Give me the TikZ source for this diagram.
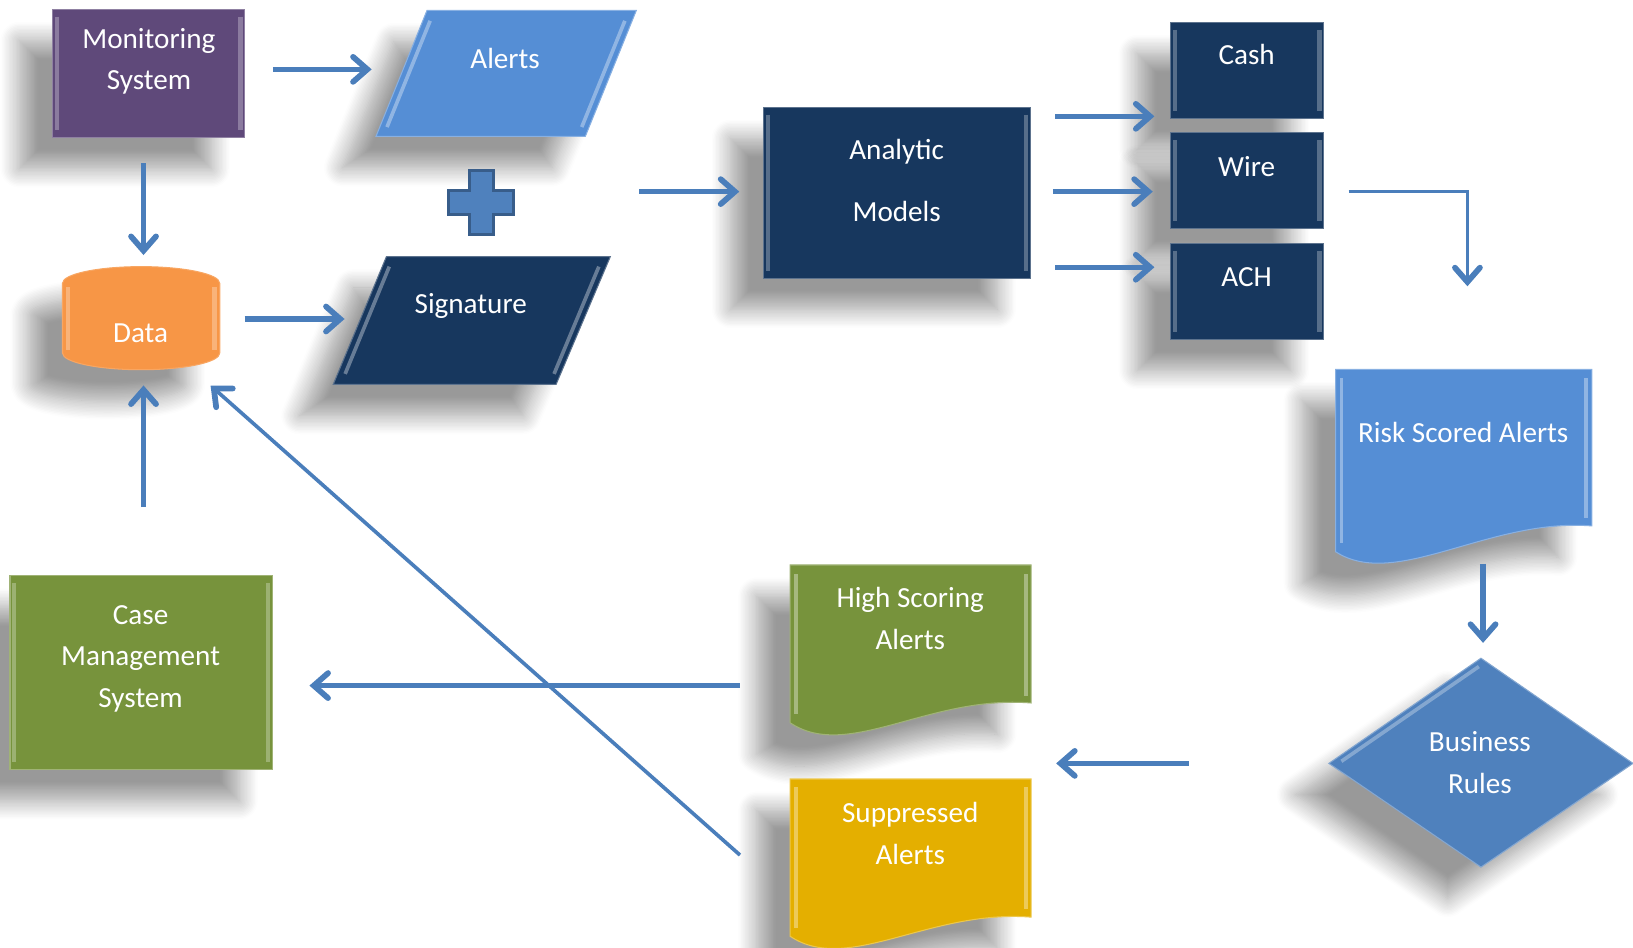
\documentclass[tikz,border=0pt]{standalone}
\usepackage{fontspec}
\setmainfont{Carlito}
\usetikzlibrary{shadows.blur,decorations.markings}

\definecolor{mspurple}{HTML}{5F497A}
\definecolor{alertblue}{HTML}{558ED5}
\definecolor{navy}{HTML}{17375E}
\definecolor{dataorange}{HTML}{F79646}
\definecolor{plusblue}{HTML}{4F81BD}
\definecolor{plusedge}{HTML}{385D8A}
\definecolor{olive}{HTML}{77933C}
\definecolor{gold}{HTML}{E4AF00}
\definecolor{rulesblue}{HTML}{4F81BD}
\definecolor{arrowblue}{HTML}{4A7EBB}

\begin{document}
\begin{tikzpicture}[x=1pt,y=-1pt,
  softshadow/.style={blur shadow={shadow xshift=-32pt, shadow yshift=-30pt,
      shadow blur radius=18pt, shadow blur steps=14, shadow opacity=40}},
  bevel/.style={path picture={
      \draw[white, opacity=.28, line width=4pt]
        ([xshift=4pt,yshift=-7pt]path picture bounding box.north west) --
        ([xshift=4pt,yshift=7pt]path picture bounding box.south west);
      \draw[white, opacity=.28, line width=4pt]
        ([xshift=-4pt,yshift=-7pt]path picture bounding box.north east) --
        ([xshift=-4pt,yshift=7pt]path picture bounding box.south east);}},
  box/.style={rectangle, inner sep=0pt, fill=#1, draw=#1!70!white,
      line width=1pt, softshadow, bevel},
  hilite/.style={white, opacity=.35, line width=3.5pt},
  lbl/.style={text=white, font=\fontsize{28}{40}\selectfont, align=center, inner sep=0pt},
  chevron/.style={postaction={decorate, decoration={markings,
      mark=at position 1 with {\draw[arrowblue, line width=5.5pt, shorten >=0pt,
          line join=miter, miter limit=5, line cap=round]
          (-18pt,12pt) -- (-4.3pt,0pt) -- (-18pt,-12pt);}}}},
  arr/.style={draw=arrowblue, line width=5pt, shorten >=5pt, chevron},
  thinarr/.style={draw=arrowblue, line width=3.5pt, shorten >=5pt, chevron}]

\useasboundingbox (0,0) rectangle (1568,910);

% ---------- Monitoring System ----------
\node[box=mspurple, minimum width=184.5pt, minimum height=123pt] (monbox) at (142.75,70.5) {};
\node[lbl] (mon) at (143,59) {Monitoring\\System};

% ---------- Alerts (parallelogram) ----------
\path[softshadow, fill=alertblue, draw=alertblue!70!white, line width=1pt]
  (410,10) -- (611,10) -- (562,131) -- (361,131) -- cycle;
\draw[hilite] (413,20) -- (371.6,122);
\draw[hilite] (600,20) -- (558.6,122);
\node[lbl] (alerts) at (485,56) {Alerts};

% ---------- plus sign ----------
\path[fill=plusblue, draw=plusedge, line width=3pt]
  (450.5,163.5) -- (473.5,163.5) -- (473.5,183) -- (493,183) -- (493,206)
  -- (473.5,206) -- (473.5,225.5) -- (450.5,225.5) -- (450.5,206) -- (431,206)
  -- (431,183) -- (450.5,183) -- cycle;
\coordinate (plus) at (462,194.5);

% ---------- Signature (parallelogram) ----------
\path[softshadow, fill=navy, draw=navy!70!white, line width=1pt]
  (371,246.5) -- (586,246.5) -- (534,369) -- (320,369) -- cycle;
\draw[hilite] (373.8,256) -- (331.4,359);
\draw[hilite] (575,256) -- (532,359);
\node[lbl] (sig) at (452,294) {Signature};

% ---------- Data (cylinder) ----------
\path[softshadow, fill=dataorange, draw=dataorange!85!white, line width=1pt]
  (60,272) arc[start angle=180, end angle=0, x radius=75.5pt, y radius=16pt]
  -- (211,339) arc[start angle=0, end angle=-180, x radius=75.5pt, y radius=16pt]
  -- cycle;
\draw[white, opacity=.28, line width=4pt] (65,276) -- (65,336);
\draw[white, opacity=.28, line width=4pt] (206,276) -- (206,336);
\node[lbl] (data) at (135,320) {Data};

% ---------- Analytic Models ----------
\node[box=navy, minimum width=256pt, minimum height=164pt] (modbox) at (861.5,185) {};
\node[lbl, font=\fontsize{28}{60}\selectfont] (models) at (861,173.5) {Analytic\\Models};

% ---------- Cash / Wire / ACH ----------
\node[box=navy, minimum width=147pt, minimum height=92pt] (cashbox) at (1197.5,67.5) {};
\node[lbl] (cash) at (1197,52.5) {Cash};
\node[box=navy, minimum width=147pt, minimum height=92pt] (wirebox) at (1197.5,173.2) {};
\node[lbl] (wire) at (1197,160) {Wire};
\node[box=navy, minimum width=147pt, minimum height=92pt] (achbox) at (1197.5,279.7) {};
\node[lbl] (ach) at (1197,265.7) {ACH};

% ---------- Risk Scored Alerts (document) ----------
\path[softshadow, fill=alertblue, draw=alertblue!70!white, line width=1pt]
  (1282.5,354.6) -- (1528.5,354.6) -- (1528.5,505)
  .. controls (1430,497) and (1340,567) .. (1282.5,529.8) -- cycle;
\draw[hilite] (1288,363) -- (1288,521);
\draw[hilite] (1523,363) -- (1523,497);
\node[lbl] (risk) at (1405,415.7) {Risk Scored Alerts};

% ---------- Business Rules (decision) ----------
\path[softshadow, fill=rulesblue, draw=rulesblue!70!white, line width=1pt]
  (1422,632) -- (1568,733) -- (1422,832.6) -- (1276,733) -- cycle;
\draw[white, opacity=.3, line width=3.5pt] (1288,731) -- (1420,640);
\node[lbl] (rules) at (1421,732.5) {Business\\Rules};

% ---------- High Scoring Alerts (document) ----------
\path[softshadow, fill=olive, draw=olive!70!white, line width=1pt]
  (758.7,542.5) -- (990,542.5) -- (990,675)
  .. controls (892,667) and (814,731) .. (758.7,694) -- cycle;
\draw[hilite] (764,551) -- (764,686);
\draw[hilite] (985,551) -- (985,668);
\node[lbl] (high) at (874,594) {High Scoring\\Alerts};

% ---------- Suppressed Alerts (document) ----------
\path[softshadow, fill=gold, draw=gold!70!white, line width=1pt]
  (758.7,748) -- (990,748) -- (990,880.6)
  .. controls (892,873) and (814,936) .. (758.7,899) -- cycle;
\draw[hilite] (764,756) -- (764,891);
\draw[hilite] (985,756) -- (985,873);
\node[lbl] (supp) at (874,800) {Suppressed\\Alerts};

% ---------- Case Management System ----------
\node[box=olive, minimum width=252pt, minimum height=186pt] (cmsbox) at (135.6,646) {};
\node[lbl] (cms) at (135,632.5) {Case\\Management\\System};

% ---------- connector end points ----------
\coordinate (m2a-s) at (262,66.6);    \coordinate (m2a-e) at (357,66.6);
\coordinate (m2d-s) at (137.8,156.8); \coordinate (m2d-e) at (137.8,245);
\coordinate (d2s-s) at (234.8,306.3); \coordinate (d2s-e) at (331,306.3);
\coordinate (p2m-s) at (614,184);     \coordinate (p2m-e) at (710,184);
\coordinate (m2c-s) at (1013,111.7);  \coordinate (m2c-e) at (1108.6,111.7);
\coordinate (m2w-s) at (1011,184);    \coordinate (m2w-e) at (1107,184);
\coordinate (m2h-s) at (1013,256.6);  \coordinate (m2h-e) at (1108.6,256.6);
\coordinate (w2r-s) at (1295,184);    \coordinate (w2r-c) at (1409,184);
\coordinate (w2r-e) at (1409,275);
\coordinate (r2b-s) at (1424,541.3);  \coordinate (r2b-e) at (1424,617.4);
\coordinate (b2o-s) at (1141.6,733);  \coordinate (b2o-e) at (1014,733);
\coordinate (h2c-s) at (710.5,658.3); \coordinate (h2c-e) at (297,658.3);
\coordinate (s2d-s) at (710.5,821);   \coordinate (s2d-e) at (202,370);
\coordinate (c2d-s) at (137.8,487);   \coordinate (c2d-e) at (137.8,370);

% ---------- connectors ----------
\draw[arr] (m2a-s) -- (m2a-e);
\draw[arr] (m2d-s) -- (m2d-e);
\draw[arr] (d2s-s) -- (d2s-e);
\draw[arr] (p2m-s) -- (p2m-e);
\draw[arr] (m2c-s) -- (m2c-e);
\draw[arr] (m2w-s) -- (m2w-e);
\draw[arr] (m2h-s) -- (m2h-e);
\draw[thinarr] (w2r-s) -- (w2r-c) -- (w2r-e);
\draw[arr] (r2b-s) -- (r2b-e);
\draw[arr] (b2o-s) -- (b2o-e);
\draw[arr] (h2c-s) -- (h2c-e);
\draw[thinarr] (s2d-s) -- (s2d-e);
\draw[arr] (c2d-s) -- (c2d-e);

\end{tikzpicture}
\end{document}
